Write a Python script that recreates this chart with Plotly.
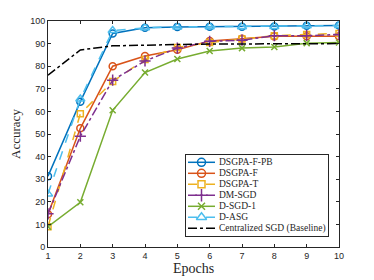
import plotly.graph_objects as go

epochs = [1, 2, 3, 4, 5, 6, 7, 8, 9, 10]
dsgpa_f_pb = [31.3, 64.3, 94.5, 97.0, 97.4, 97.5, 97.5, 97.6, 97.9, 98.0]
dsgpa_f = [14.5, 52.5, 80.0, 84.5, 87.3, 91.2, 92.2, 93.2, 93.3, 93.3]
dsgpa_t = [9.0, 59.0, 73.2, 83.0, 88.3, 90.5, 92.0, 93.5, 94.0, 94.5]
dm_sgd = [14.7, 49.0, 73.8, 82.3, 88.0, 91.0, 91.5, 93.5, 93.5, 94.0]
d_sgd_1 = [9.0, 19.8, 60.5, 77.2, 83.2, 86.7, 88.0, 88.5, 90.2, 90.5]
d_asg = [23.5, 65.5, 95.8, 97.0, 97.4, 97.5, 97.5, 97.6, 97.9, 98.0]
centralized = [76.0, 87.2, 89.0, 89.4, 89.6, 89.8, 89.9, 90.0, 90.0, 90.0]

x_ticks = [1, 2, 3, 4, 5, 6, 7, 8, 9, 10]
y_ticks = [0, 10, 20, 30, 40, 50, 60, 70, 80, 90, 100]

series = [
    ("DSGPA-F-PB", dsgpa_f_pb, "#0072BD", "solid", "circle-open", 7),
    ("DSGPA-F", dsgpa_f, "#D95319", "solid", "circle-open", 7),
    ("DSGPA-T", dsgpa_t, "#EDB120", "dash", "square-open", 6),
    ("DM-SGD", dm_sgd, "#7E2F8E", "dashdot", "cross-thin-open", 8),
    ("D-SGD-1", d_sgd_1, "#77AC30", "solid", "x-thin-open", 6),
    ("D-ASG", d_asg, "#4DBEEE", "dash", "triangle-up-open", 8),
    ("Centralized SGD (Baseline)", centralized, "black", "dashdot", None, 0),
]

SERIF = "Liberation Serif, Times New Roman, serif"
INK = "#262626"

fig = go.Figure()
for name, vals, color, dash, sym, size in series:
    if sym is None:
        fig.add_trace(go.Scatter(
            x=epochs, y=vals, name=name, mode="lines", showlegend=False,
            line=dict(color=color, width=1.5, dash=dash)))
    else:
        fig.add_trace(go.Scatter(
            x=epochs, y=vals, name=name, mode="lines+markers", showlegend=False,
            line=dict(color=color, width=1.5, dash=dash),
            marker=dict(symbol=sym, size=size, color=color, line=dict(color=color, width=1.5))))

# custom legend drawn in an inset subplot (pixel-like coordinates)
row0, row_step = 162.3, 11.0
annotations = []
for i, (name, vals, color, dash, sym, size) in enumerate(series):
    yc = row0 + i * row_step
    fig.add_trace(go.Scatter(
        x=[188, 215], y=[yc, yc], mode="lines", xaxis="x2", yaxis="y2", showlegend=False,
        hoverinfo="skip", line=dict(color=color, width=1.5, dash=dash)))
    if sym is not None:
        fig.add_trace(go.Scatter(
            x=[201.5], y=[yc], mode="markers", xaxis="x2", yaxis="y2", showlegend=False,
            hoverinfo="skip",
            marker=dict(symbol=sym, size=size + 1, color=color, line=dict(color=color, width=1.5))))
    annotations.append(dict(
        x=217, y=yc, xref="x2", yref="y2", text=name, showarrow=False,
        xanchor="left", yanchor="middle",
        font=dict(family=SERIF, size=9.5, color=INK)))

axis_common = dict(
    showline=True, linecolor=INK, linewidth=0.8, mirror="ticks",
    ticks="inside", ticklen=3, tickcolor=INK, showgrid=False, zeroline=False,
    automargin=False,
    tickfont=dict(family="Liberation Sans, Arial", size=9, color=INK),
)
# the page body adds an 8px offset; margins compensate so the plot area sits at 48..339 x 21..247
fig.update_layout(
    width=374, height=280,
    margin=dict(l=40, r=43, t=13, b=41),
    paper_bgcolor="white", plot_bgcolor="white",
    showlegend=False,
    xaxis=dict(range=[1, 10], tickvals=x_ticks, domain=[0, 1],
               title=dict(text="Epochs", standoff=3,
                          font=dict(family=SERIF, size=14, color=INK)),
               **axis_common),
    yaxis=dict(range=[0, 100], tickvals=y_ticks, domain=[0, 1],
               title=dict(text="Accuracy", standoff=7,
                          font=dict(family=SERIF, size=13, color=INK)),
               **axis_common),
    xaxis2=dict(domain=[(186 - 48) / 291, (328 - 48) / 291], range=[186, 328], anchor="y2",
                showline=True, mirror=True, linecolor=INK, linewidth=0.8,
                showticklabels=False, ticks="", showgrid=False, zeroline=False, fixedrange=True),
    yaxis2=dict(domain=[(247 - 236) / 226, (247 - 155) / 226], range=[236, 155], anchor="x2",
                showline=True, mirror=True, linecolor=INK, linewidth=0.8,
                showticklabels=False, ticks="", showgrid=False, zeroline=False, fixedrange=True),
    annotations=annotations,
)

fig.write_html("out.html")
